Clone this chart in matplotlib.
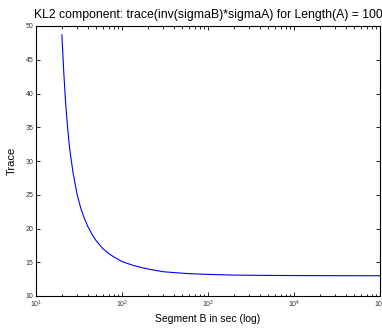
import matplotlib
matplotlib.use("Agg")
import matplotlib.pyplot as plt
from matplotlib.ticker import LogLocator, NullFormatter, FixedLocator

plt.rcParams['font.family'] = ['Liberation Sans', 'DejaVu Sans']
plt.rcParams['mathtext.fontset'] = 'custom'
plt.rcParams['mathtext.rm'] = 'Liberation Sans'

# values
seg_b = [20, 21, 22, 23, 24, 25, 27, 30, 33, 36, 40, 45, 50, 60, 70, 80,
         100, 130, 170, 220, 300, 400, 600, 1000, 2000, 5000, 10000, 30000, 100000]
trace = [48.7, 43.3, 39.0, 35.8, 33.2, 31.2, 28.2, 25.1, 23.1, 21.7, 20.3, 19.1,
         18.2, 17.0, 16.3, 15.8, 15.1, 14.6, 14.2, 13.9, 13.6, 13.47, 13.31, 13.2,
         13.1, 13.05, 13.03, 13.01, 13.0]
y_ticks = [10, 15, 20, 25, 30, 35, 40, 45, 50]
x_ticks = [1e1, 1e2, 1e3, 1e4, 1e5]
x_labels = ['$10^{1}$', '$10^{2}$', '$10^{3}$', '$10^{4}$', '$10^{5}$']

fig = plt.figure(figsize=(3.82, 3.32), dpi=100)
ax = fig.add_axes([36 / 382, 36 / 332, 344 / 382, 270 / 332])
ax.plot(seg_b, trace, color='#0000ff', lw=0.8)
ax.set_xscale('log')
ax.set_xlim(1e1, 1e5)
ax.set_ylim(10, 50)

ax.xaxis.set_major_locator(FixedLocator(x_ticks))
ax.set_xticklabels(x_labels)
ax.xaxis.set_minor_locator(LogLocator(base=10, subs=range(2, 10), numticks=20))
ax.xaxis.set_minor_formatter(NullFormatter())
ax.set_yticks(y_ticks)

ax.tick_params(which='both', direction='in', top=True, right=True, width=0.6,
               labelsize=5, pad=2, labelcolor='#333333')
ax.tick_params(which='major', length=3)
ax.tick_params(which='minor', length=1.8)
for s in ax.spines.values():
    s.set_linewidth(0.8)

ax.set_title('KL2 component: trace(inv(sigmaB)*sigmaA) for Length(A) = 100',
             fontsize=8.8, pad=6)
ax.set_xlabel('Segment B in sec (log)', fontsize=7.5, labelpad=3)
ax.set_ylabel('Trace', fontsize=8, labelpad=6)

fig.savefig('out.png', dpi=100)
